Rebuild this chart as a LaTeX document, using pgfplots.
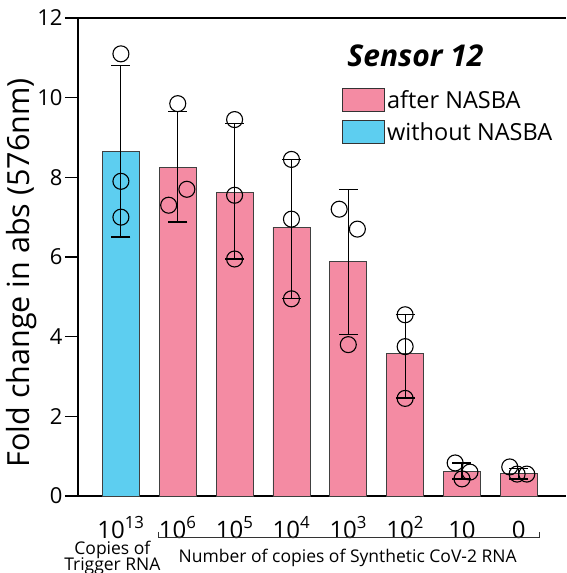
\documentclass[border=0pt]{standalone}
\usepackage{fontspec}
\setmainfont{Open Sans}
\usepackage{pgfplots}
\pgfplotsset{compat=1.18}
\definecolor{pinkbar}{RGB}{244,139,163}
\definecolor{bluebar}{RGB}{93,206,240}
\begin{document}
\begin{tikzpicture}
\begin{axis}[
  name=ax,
  scale only axis, width=488pt, height=478pt,
  xmin=-0.755, xmax=7.83, ymin=0, ymax=12,
  axis x line*=box, axis y line*=left,
  axis line style={line width=1.5pt, -},
  ytick={0,2,...,12}, tick align=outside, major tick length=13pt,
  y tick style={line width=1.3pt, black},
  x tick style={draw=none},
  xtick={0,...,7},
  xticklabels={10\textsuperscript{13},10\textsuperscript{6},10\textsuperscript{5},10\textsuperscript{4},10\textsuperscript{3},10\textsuperscript{2},10,0},
  xticklabel style={font=\fontsize{24}{24}\selectfont, anchor=base, yshift=-29pt},
  yticklabel style={font=\fontsize{22}{22}\selectfont, xshift=1pt},
  /pgf/number format/assume math mode=true,
  ylabel={Fold change in abs (576nm)},
  ylabel style={font=\fontsize{30.5}{30.5}\selectfont, at={(axis description cs:-0.1148,0.467)}, anchor=center},
  clip=false,
  bar width=0.65, /pgf/bar shift=0pt,
  legend style={at={(axis description cs:0.541,0.8536)}, anchor=north west, draw=none, fill=none,
    font=\fontsize{23.5}{23.5}\selectfont, row sep=8pt, inner sep=0pt, nodes={inner sep=2pt}},
  legend cell align=left,
]
\addlegendimage{legend image code/.code={\draw[fill=pinkbar, draw=black!80, line width=0.9pt] (0pt,-11.5pt) rectangle (42pt,11.5pt);}}
\addlegendentry{after NASBA}
\addlegendimage{legend image code/.code={\draw[fill=bluebar, draw=black!80, line width=0.9pt] (0pt,-11.5pt) rectangle (42pt,11.5pt);}}
\addlegendentry{without NASBA}

\addplot[ybar, fill=pinkbar, draw=black!75, line width=0.7pt, forget plot,
  error bars/.cd, y dir=both, y explicit,
  error bar style={line width=1.1pt, black},
  error mark options={mark size=9.5pt, line width=1.3pt, black, rotate=90}]
  table[x=x, y=y, y error plus=ep, y error minus=em] {
  x y ep em
  1 8.25 1.40 1.37
  2 7.63 1.72 1.68
  3 6.75 1.70 1.80
  4 5.88 1.82 1.83
  5 3.57 0.98 1.11
  6 0.62 0.21 0.19
  7 0.56 0.13 0.13
};
\addplot[ybar, fill=bluebar, draw=black!75, line width=0.7pt, forget plot,
  error bars/.cd, y dir=both, y explicit,
  error bar style={line width=1.1pt, black},
  error mark options={mark size=9.5pt, line width=1.3pt, black, rotate=90}]
  table[x=x, y=y, y error plus=ep, y error minus=em] {
  x y ep em
  0 8.64 2.16 2.14
};
\addplot[only marks, mark=o, mark size=8pt, mark options={line width=1.1pt, black}, forget plot]
  table {
  x y
  0 11.1
  0 7.9
  0 7.0
  1 9.85
  0.84 7.3
  1.16 7.7
  2 9.45
  2 7.55
  2 5.95
  3 8.45
  3 6.95
  3 4.95
  3.84 7.2
  4.16 6.7
  4 3.8
  5 4.55
  5 3.75
  5 2.45
  5.88 0.83
  6.14 0.6
  6 0.43
  6.84 0.73
  6.97 0.55
  7.14 0.55
};
\node[font=\fontsize{30}{30}\selectfont\bfseries\itshape] at (axis cs:5.18,11.05) {Sensor 12};
\draw[line width=1pt, black!80] (axis cs:0.66,-0.9) -- (axis cs:0.66,-1.05) -- (axis cs:7.37,-1.05) -- (axis cs:7.37,-0.9);
\node[font=\fontsize{17.5}{17.5}\selectfont, inner sep=0pt, anchor=base] at (axis cs:3.99,-1.657) {Number of copies of Synthetic CoV-2 RNA};
\node[font=\fontsize{17.5}{17.5}\selectfont, inner sep=0pt, anchor=base] at (axis cs:-0.15,-1.48) {Copies of};
\node[font=\fontsize{17.5}{17.5}\selectfont, inner sep=0pt, anchor=base] at (axis cs:-0.15,-1.86) {Trigger RNA};
\end{axis}
\pgfresetboundingbox
\path[use as bounding box] ([xshift=-78pt,yshift=-77pt]ax.south west) rectangle ([yshift=18pt]ax.north east);
\end{tikzpicture}
\end{document}
